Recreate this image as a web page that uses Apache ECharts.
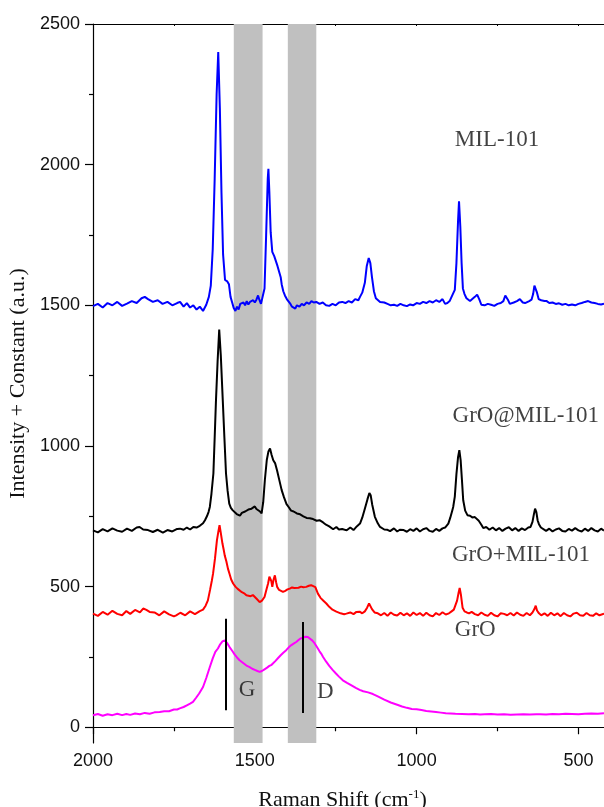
<!DOCTYPE html>
<html><head><meta charset="utf-8">
<script src="https://cdn.jsdelivr.net/npm/echarts@6/dist/echarts.min.js"></script>
<style>html,body{margin:0;padding:0;background:#fff}#c{width:604px;height:807px}</style>
</head><body><div id="c"></div>
<script>
// ---- DATA ----
const xMajorTicks = [2000, 1500, 1000, 500];
const xMinorTicks = [1750, 1250, 750];
const yMajorTicks = [0, 500, 1000, 1500, 2000, 2500];
const yMinorTicks = [250, 750, 1250, 1750, 2250];

const seriesNames = ['MIL-101', 'GrO@MIL-101', 'GrO+MIL-101', 'GrO'];

const milShift = [2000,1985,1970,1955,1940,1925,1910,1895,1880,1865,1850,1840,1830,1815,1800,1785,1770,1755,1740,1731,1720,1710,1700,1690,1680,1670,1660,1650,1642,1636,1630,1624,1618,1613,1608,1603,1598,1592,1585,1580,1575,1570,1565,1560,1555,1550,1545,1540,1535,1530,1525,1520,1515,1510,1505,1500,1495,1490,1486,1481,1476,1470,1465,1460,1458,1455,1451,1446,1440,1434,1430,1425,1420,1417,1412,1407,1400,1395,1390,1385,1380,1375,1370,1362,1355,1348,1340,1332,1325,1318,1310,1300,1290,1280,1270,1260,1250,1240,1230,1220,1210,1200,1190,1180,1175,1168,1160,1154,1148,1143,1138,1132,1126,1120,1113,1100,1090,1080,1070,1060,1050,1040,1030,1020,1011,1000,990,980,970,960,950,940,930,920,912,905,898,892,886,882,877,872,869,865,861,857,852,846,841,835,828,820,813,806,800,790,780,770,760,750,740,732,726,722,718,712,707,700,690,681,672,665,660,652,645,640,636,632,628,623,615,605,598,590,580,570,560,550,540,530,520,510,500,490,480,470,460,450,440,430,421];
const milVal = [1497,1505,1492,1508,1500,1512,1498,1506,1515,1508,1525,1530,1522,1512,1518,1505,1512,1500,1508,1512,1495,1508,1492,1500,1485,1495,1480,1502,1530,1570,1700,1950,2250,2400,2200,1900,1680,1590,1585,1575,1530,1510,1490,1480,1495,1485,1505,1498,1510,1500,1515,1503,1512,1505,1518,1510,1520,1535,1520,1505,1512,1560,1750,1950,1985,1900,1760,1690,1675,1670,1640,1635,1600,1575,1550,1535,1520,1515,1505,1495,1492,1488,1500,1495,1505,1500,1510,1505,1515,1510,1512,1505,1510,1500,1498,1505,1500,1510,1512,1508,1515,1510,1522,1518,1530,1545,1580,1640,1668,1650,1600,1550,1525,1518,1512,1510,1505,1500,1502,1498,1505,1500,1497,1503,1500,1508,1505,1512,1508,1515,1510,1518,1512,1522,1505,1508,1515,1530,1545,1555,1650,1800,1870,1780,1650,1560,1540,1525,1520,1515,1522,1530,1538,1520,1502,1500,1505,1502,1498,1505,1508,1515,1535,1540,1520,1505,1500,1510,1515,1522,1510,1508,1506,1515,1520,1540,1570,1572,1545,1522,1518,1515,1515,1508,1510,1505,1507,1502,1505,1500,1503,1500,1505,1508,1512,1515,1510,1508,1505,1503,1506];

const grMilShift = [2000,1985,1970,1955,1940,1925,1910,1895,1880,1865,1856,1845,1830,1815,1800,1784,1770,1755,1740,1731,1720,1710,1700,1690,1680,1670,1660,1654,1648,1643,1639,1634,1628,1624,1620,1615,1610,1605,1599,1594,1589,1584,1579,1574,1568,1562,1556,1551,1546,1540,1535,1530,1525,1520,1515,1510,1505,1500,1495,1490,1485,1479,1474,1469,1463,1458,1453,1448,1443,1437,1431,1425,1417,1410,1402,1395,1388,1380,1370,1360,1350,1340,1330,1320,1309,1300,1289,1280,1270,1258,1248,1240,1230,1216,1205,1195,1185,1175,1168,1160,1152,1146,1142,1137,1129,1120,1113,1100,1090,1082,1070,1060,1052,1040,1030,1020,1010,1000,990,980,970,960,950,940,930,920,912,907,902,896,890,887,882,877,872,868,864,860,856,850,843,835,828,820,814,808,800,794,785,775,765,755,745,735,725,715,705,695,685,675,665,655,648,642,638,634,630,626,622,616,610,600,590,580,570,560,550,540,530,520,510,500,490,480,470,460,450,440,430,421];
const grMilVal = [700,693,704,696,707,699,695,706,698,710,712,703,701,694,702,692,701,696,705,706,702,710,703,712,710,716,725,736,750,765,783,830,902,1030,1162,1300,1414,1320,1162,1030,902,840,795,780,771,766,758,760,752,762,756,767,763,774,768,777,781,785,776,777,768,760,800,878,950,980,991,968,949,938,912,882,843,818,793,782,770,767,760,757,750,744,743,740,734,736,728,720,714,704,712,703,705,700,710,701,714,724,745,777,810,833,825,790,748,725,712,703,702,697,707,696,702,701,695,704,698,707,696,704,708,698,695,705,698,707,710,712,724,745,770,783,820,900,960,985,950,880,807,770,754,752,746,747,740,734,720,708,712,702,710,700,708,698,706,711,700,708,698,707,701,710,712,730,755,777,765,735,722,710,707,698,706,696,703,707,698,696,705,699,708,700,696,706,698,708,700,696,706,699];

const grPlusShift = [2000,1985,1970,1955,1940,1925,1910,1897,1885,1870,1855,1845,1835,1825,1810,1795,1780,1765,1750,1743,1730,1715,1700,1685,1670,1660,1652,1645,1638,1633,1629,1623,1617,1612,1609,1605,1600,1596,1593,1588,1583,1578,1573,1567,1560,1553,1547,1540,1533,1526,1520,1513,1506,1500,1493,1485,1478,1470,1464,1459,1455,1452,1449,1446,1442,1438,1434,1431,1425,1419,1413,1406,1399,1392,1385,1378,1372,1365,1357,1350,1341,1333,1326,1320,1313,1305,1297,1288,1279,1270,1260,1248,1235,1224,1217,1205,1195,1186,1176,1168,1160,1153,1147,1143,1138,1130,1120,1110,1100,1090,1080,1070,1060,1050,1040,1030,1020,1010,1000,990,980,970,960,950,940,930,920,910,900,892,885,880,875,870,867,863,858,852,845,838,830,820,810,800,790,780,770,760,750,740,730,720,710,700,690,680,670,660,650,642,636,632,628,622,615,605,595,585,575,565,555,545,535,525,515,505,495,485,475,465,455,445,435,421];
const grPlusVal = [404,396,410,400,414,403,398,413,403,417,408,422,417,410,408,398,412,401,394,398,407,398,412,402,413,418,432,451,490,520,546,600,665,700,718,690,653,630,611,590,564,545,525,511,500,492,487,480,476,469,472,466,470,463,455,445,450,463,490,511,535,540,520,499,525,540,515,499,488,484,481,485,490,493,497,495,499,496,500,498,499,503,505,511,498,475,460,450,440,428,418,411,405,402,404,408,402,410,411,405,412,425,440,438,420,408,405,398,406,396,408,400,397,407,398,405,396,408,399,406,396,407,398,394,406,399,409,401,405,412,418,420,450,480,495,470,425,412,408,405,410,402,398,408,400,396,407,398,394,405,403,398,406,397,408,400,396,406,398,408,420,432,415,405,398,405,396,407,398,405,395,406,398,394,404,407,398,396,406,398,396,405,398,404];

const groShift = [2000,1985,1970,1955,1940,1925,1910,1897,1885,1870,1855,1840,1825,1810,1794,1780,1765,1750,1740,1732,1720,1710,1700,1691,1682,1672,1660,1650,1639,1630,1622,1614,1607,1600,1593,1586,1578,1570,1562,1555,1547,1540,1532,1524,1516,1508,1500,1492,1485,1478,1470,1462,1455,1448,1444,1436,1428,1420,1412,1403,1395,1387,1379,1372,1365,1358,1351,1344,1336,1330,1322,1315,1308,1300,1295,1289,1280,1270,1259,1250,1240,1228,1215,1200,1188,1176,1165,1150,1135,1120,1100,1080,1060,1045,1030,1015,1000,985,970,955,940,925,910,895,880,860,840,820,804,790,770,750,730,710,690,670,650,630,619,600,580,560,540,520,500,480,460,440,421];
const groVal = [43,47,41,46,43,48,43,47,44,49,46,51,48,53,54,57,57,63,63,67,72,78,84,90,104,120,143,175,214,245,268,280,295,305,309,300,285,272,258,248,238,232,225,218,214,208,204,200,197,200,206,212,218,222,226,236,246,256,265,274,284,292,298,303,310,316,318,322,321,316,308,298,285,270,262,250,234,218,203,192,180,167,158,148,140,133,128,124,118,110,98,88,80,74,69,65,64,61,58,56,54,52,50,49,48,47,46,47,45,46,47,45,46,44,45,46,45,46,46,45,47,46,48,47,46,48,49,48,50];

const bandRanges = [[1565, 1476], [1398, 1310]];
const markerLines = [{ shift: 1590, from: 386, to: 60 }, { shift: 1351, from: 374, to: 51 }];

const labelTexts = ['MIL-101', 'GrO@MIL-101', 'GrO+MIL-101', 'GrO', 'G', 'D'];
const labelShift = [882, 889, 891, 882, 1550, 1308];
const labelVal = [2087, 1106, 611, 345, 132, 124];

// ---- CHART ----
const zip = (a, b) => a.map((v, i) => [v, b[i]]);
const serif = 'Liberation Serif';
const sans = 'Liberation Sans';
const chart = echarts.init(document.getElementById('c'), null, { renderer: 'canvas' });

const xCommon = { type: 'value', inverse: true, min: 421, max: 2000, splitLine: { show: false } };
const yCommon = { type: 'value', min: -56, max: 2500, splitLine: { show: false } };
const plain = v => String(v);

function lineSeries(name, shifts, vals, color, extra) {
  return Object.assign({
    name, type: 'line', data: zip(shifts, vals), showSymbol: false, symbol: 'none',
    lineStyle: { color, width: 2 }, itemStyle: { color }, z: 3, animation: false
  }, extra || {});
}

chart.setOption({
  animation: false,
  backgroundColor: '#fff',
  grid: { left: 93, right: 0, top: 24, bottom: 64, containLabel: false, outerBoundsMode: 'none' },
  xAxis: [
    Object.assign({}, xCommon, {
      position: 'bottom',
      axisLine: { show: true, lineStyle: { color: '#000', width: 1.2 } },
      axisTick: { show: true, inside: false, length: 7, customValues: xMajorTicks, lineStyle: { color: '#000', width: 1.2 } },
      axisLabel: { show: true, customValues: xMajorTicks, formatter: plain, margin: 9, fontFamily: sans, fontSize: 18, color: '#111' },
      name: '{a|Raman Shift (cm}{s|-1}{a|)}',
      nameLocation: 'middle', nameGap: 45,
      nameTextStyle: {
        padding: [0, 12, 0, 0],
        rich: {
          a: { fontFamily: serif, fontSize: 22, color: '#111' },
          s: { fontFamily: serif, fontSize: 13, color: '#111', padding: [0, 0, 12, 0] }
        }
      }
    }),
    Object.assign({}, xCommon, {
      position: 'bottom',
      axisLine: { show: false },
      axisTick: { show: true, inside: false, length: 4, customValues: xMinorTicks, lineStyle: { color: '#000', width: 1.2 } },
      axisLabel: { show: false }
    }),
    Object.assign({}, xCommon, {
      position: 'top',
      axisLine: { show: true, lineStyle: { color: '#000', width: 1.2 } },
      axisTick: { show: true, inside: true, length: 2, customValues: xMajorTicks.concat(xMinorTicks), lineStyle: { color: '#000' } },
      axisLabel: { show: false }
    })
  ],
  yAxis: [
    Object.assign({}, yCommon, {
      position: 'left',
      axisLine: { show: true, lineStyle: { color: '#000', width: 1.2 } },
      axisTick: { show: true, inside: false, length: 8, customValues: yMajorTicks, lineStyle: { color: '#000', width: 1.2 } },
      axisLabel: { show: true, customValues: yMajorTicks, formatter: plain, margin: 13, fontFamily: sans, fontSize: 18, color: '#111' },
      name: 'Intensity + Constant (a.u.)',
      nameLocation: 'middle', nameGap: 43, nameRotate: 90,
      nameTextStyle: { fontFamily: serif, fontSize: 22, color: '#111' }
    }),
    Object.assign({}, yCommon, {
      position: 'left',
      axisLine: { show: false },
      axisTick: { show: true, inside: false, length: 4, customValues: yMinorTicks, lineStyle: { color: '#000', width: 1.2 } },
      axisLabel: { show: false }
    })
  ],
  series: [
    {
      type: 'line', data: [], z: 1, silent: true,
      markArea: {
        silent: true,
        itemStyle: { color: '#c0c0c0', opacity: 1 },
        data: bandRanges.map(r => [{ xAxis: r[0] }, { xAxis: r[1] }])
      }
    },
    lineSeries(seriesNames[3], groShift, groVal, '#ff00ff', {
      markLine: {
        silent: true, symbol: ['none', 'none'], label: { show: false },
        lineStyle: { color: '#000', width: 2, type: 'solid' },
        data: markerLines.map(m => [{ coord: [m.shift, m.from] }, { coord: [m.shift, m.to] }])
      }
    }),
    lineSeries(seriesNames[2], grPlusShift, grPlusVal, '#ff0000'),
    lineSeries(seriesNames[1], grMilShift, grMilVal, '#000000'),
    lineSeries(seriesNames[0], milShift, milVal, '#0000ff'),
    {
      type: 'scatter', z: 5, silent: true, symbolSize: 0,
      data: labelTexts.map((t, i) => ({ value: [labelShift[i], labelVal[i]], name: t })),
      label: {
        show: true, position: [0, 0], align: 'left', verticalAlign: 'middle',
        formatter: p => p.name, fontFamily: serif, fontSize: 23, color: '#111'
      }
    }
  ]
});
</script>
</body></html>
